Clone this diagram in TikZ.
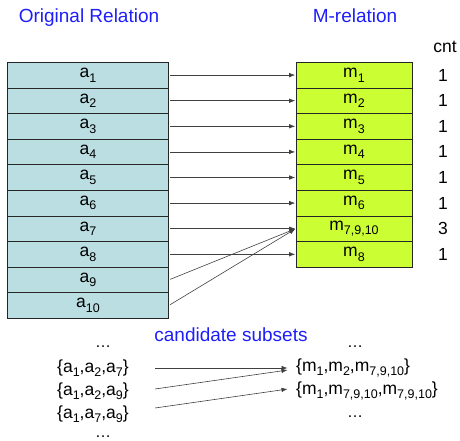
\documentclass[tikz,border=0pt]{standalone}
\usepackage{fontspec}
\setmainfont{Liberation Sans}
\usetikzlibrary{arrows.meta}
\definecolor{leftfill}{RGB}{186,222,226}
\definecolor{rightfill}{RGB}{204,255,51}
\definecolor{hdrblue}{RGB}{30,30,250}
\newcommand\lsub[1]{\raisebox{-4.5pt}{\fontsize{12.5}{12.5}\selectfont #1}}
\begin{document}
\begin{tikzpicture}[x=1pt,y=-1pt,
  cellA/.style={draw=black!85,fill=leftfill,minimum width=161pt,minimum height=25.6pt,inner sep=0pt,line width=0.6pt,font=\fontsize{17.5}{17.5}\selectfont},
  cellM/.style={draw=black!85,fill=rightfill,minimum width=116pt,minimum height=25.6pt,inner sep=0pt,line width=0.6pt,font=\fontsize{17.5}{17.5}\selectfont},
  hdr/.style={text=hdrblue,font=\fontsize{19}{19}\selectfont,inner sep=0pt},
  txt/.style={font=\fontsize{17.5}{17.5}\selectfont,inner sep=0pt},
  ell/.style={font=\fontsize{16}{16}\selectfont,inner sep=0pt,text height=2pt,text depth=0pt,anchor=base},
  conn/.style={draw=black!75,line width=0.6pt,-{Latex[length=6pt,width=4.5pt]},shorten <=1.5pt,shorten >=0.5pt}
]
\useasboundingbox (0,0) rectangle (460,441);
% headers
\node[hdr] (h1) at (89,18) {Original Relation};
\node[hdr] (h2) at (355,16) {M-relation};
\node[txt] (cnt) at (445,47) {cnt};
% left table
\foreach \i in {1,...,10} {
  \node[cellA] (a\i) at (88,{62.3+25.6*(\i-0.5)}) {a\lsub{\i}};
}
% right table
\foreach \i/\lab in {1/1,2/2,3/3,4/4,5/5,6/6,7/{7,9,10},8/8} {
  \node[cellM] (m\i) at (354,{62.3+25.6*(\i-0.5)}) {m\lsub{\lab}};
}
\foreach \i/\c in {1/1,2/1,3/1,4/1,5/1,6/1,7/3,8/1} {
  \node[txt] (c\i) at (443,{62.3+25.6*(\i-0.5)}) {\c};
}
% connectors
\foreach \i in {1,...,8} {
  \draw[conn] (a\i.east) -- (m\i.west);
}
\draw[conn] (a9.east) -- (m7.west);
\draw[conn] (a10.east) -- (m7.west);
% candidate subsets
\node[hdr] (cs) at (231,335) {candidate subsets};
\node[ell] (ld1) at (103,347) {\dots};
\node[txt,anchor=west] (s1) at (57,368) {\{a\lsub{1},a\lsub{2},a\lsub{7}\}};
\node[txt,anchor=west] (s2) at (57,391) {\{a\lsub{1},a\lsub{2},a\lsub{9}\}};
\node[txt,anchor=west] (s3) at (57,414) {\{a\lsub{1},a\lsub{7},a\lsub{9}\}};
\node[ell] (ld2) at (103,437.5) {\dots};
\node[ell] (rd1) at (355,347) {\dots};
\node[txt,anchor=west] (t1) at (296,368) {\{m\lsub{1},m\lsub{2},m\lsub{7,9,10}\}};
\node[txt,anchor=west] (t2) at (296,391) {\{m\lsub{1},m\lsub{7,9,10},m\lsub{7,9,10}\}};
\node[ell] (rd2) at (355,417) {\dots};
\coordinate (p1) at (155,368);
\coordinate (p2) at (155,389);
\coordinate (p3) at (155,408);
\coordinate (q1) at (288,368);
\coordinate (q2) at (288,370);
\coordinate (q3) at (288,389);
\draw[conn,shorten <=0pt] (p1) -- (q1);
\draw[conn,shorten <=0pt] (p2) -- (q2);
\draw[conn,shorten <=0pt] (p3) -- (q3);
\end{tikzpicture}
\end{document}
